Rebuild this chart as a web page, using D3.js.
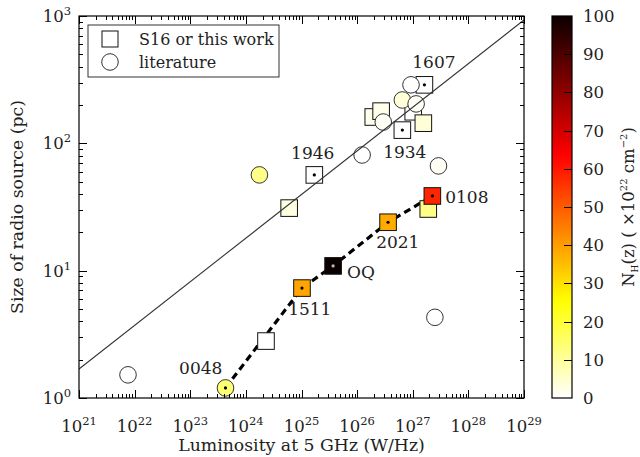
<!DOCTYPE html>
<html><head><meta charset="utf-8">
<script src="https://cdn.jsdelivr.net/npm/d3@7"></script>
<style>body{margin:0;background:#fff}svg{display:block}text{font-family:"DejaVu Serif",serif;fill:#222}</style>
</head><body><div id="c"></div>
<script>
// Squares: "S16 or this work"
const sqNames = ["1607","","","","","1934","1946","","","0108","2021","OQ","1511",""];
const sqL = [1.62e27,1.95e26,2.7e26,1.02e27,1.55e27,6.5e26,1.7e25,6.0e24,1.9e27,2.25e27,3.6e26,3.7e25,1.02e25,2.3e24];
const sqS = [288,161,179,177,144,127,56.5,31,30.5,38.6,24,10.9,7.3,2.8];
const sqNH = [0,2,2,0,4,0,0,3,12,58,38,100,39,0];
const sqDot = [1,0,0,0,0,1,1,0,0,1,1,1,1,0];
// Circles: "literature"
const ciNames = ["","","0048","","","","","","",""];
const ciL = [7.6e21,1.75e24,4.3e23,1.23e26,2.9e27,2.5e27,9.3e26,6.5e26,1.15e27,2.95e26];
const ciS = [1.52,56.5,1.2,81,66.5,4.3,288,219,204,147];
const ciNH = [0,12,14,0,1,0,0,4,1,1];
const ciDot = [0,0,1,0,0,0,0,0,0,0];
// dashed track (this work)
const trackL = [4.3e23,1.02e25,3.7e25,3.6e26,2.25e27];
const trackS = [1.2,7.3,10.9,24,38.6];
// solid relation line endpoints
const fitL = [1e21,1e29];
const fitS = [1.69,930];
// annotations
const annText = ["1607","1934","1946","0108","2021","OQ","1511","0048"];
const annL = [9.8e26,2.94e26,6.5e24,3.83e27,2.2e26,6.6e25,5.75e24,6.3e22];
const annS = [391,76.8,75.4,34,15.1,8.77,4.49,1.54];
const xTicks = [1e21,1e22,1e23,1e24,1e25,1e26,1e27,1e28,1e29];
const yTicks = [1,10,100,1000];
const cbTicks = [0,10,20,30,40,50,60,70,80,90,100];

const W=640,H=457;
const svg=d3.select("#c").append("svg").attr("width",W).attr("height",H);
const L=79,R=524,T=16,B=398;
const x=d3.scaleLog().domain([1e21,1e29]).range([L,R]);
const y=d3.scaleLog().domain([1,1000]).range([B,T]);

function hot(t){
  const r = t<0.365079 ? 0.0416+(1-0.0416)*t/0.365079 : 1;
  const g = t<0.365079 ? 0 : (t<0.746032 ? (t-0.365079)/(0.746032-0.365079) : 1);
  const b = t<0.746032 ? 0 : (t-0.746032)/(1-0.746032);
  return d3.rgb(r*255,g*255,b*255).formatHex();
}
const cmap = v => hot(1-Math.max(0,Math.min(100,v))/100);

svg.append("defs").append("clipPath").attr("id","clip").append("rect")
  .attr("x",L).attr("y",T).attr("width",R-L).attr("height",B-T);

// dashed track
const line=d3.line().x(d=>x(d[0])).y(d=>y(d[1]));
svg.append("path").datum(trackL.map((v,i)=>[v,trackS[i]]))
  .attr("d",line).attr("fill","none").attr("stroke","#000").attr("stroke-width",3.2)
  .attr("stroke-dasharray","7,4.5");

const half=8.3;
// squares
sqL.forEach((v,i)=>{
  svg.append("rect").attr("x",x(v)-half).attr("y",y(sqS[i])-half).attr("width",2*half).attr("height",2*half)
    .attr("fill",cmap(sqNH[i])).attr("stroke","#111").attr("stroke-width",1);
  if(sqDot[i]) svg.append("circle").attr("cx",x(v)).attr("cy",y(sqS[i])).attr("r",1.6)
    .attr("fill",sqNH[i]>80?"#bbb":"#000");
});
// circles
ciL.forEach((v,i)=>{
  svg.append("circle").attr("cx",x(v)).attr("cy",y(ciS[i])).attr("r",8.3)
    .attr("fill",cmap(ciNH[i])).attr("stroke","#333").attr("stroke-width",1);
  if(ciDot[i]) svg.append("circle").attr("cx",x(v)).attr("cy",y(ciS[i])).attr("r",1.6).attr("fill","#000");
});
// solid line on top
svg.append("path").datum(fitL.map((v,i)=>[v,fitS[i]])).attr("d",line)
  .attr("clip-path","url(#clip)").attr("fill","none").attr("stroke","#333").attr("stroke-width",1.1);

// annotations
annText.forEach((t,i)=>{
  svg.append("text").attr("x",x(annL[i])).attr("y",y(annS[i])).attr("font-size",17).text(t);
});

// frame
svg.append("rect").attr("x",L).attr("y",T).attr("width",R-L).attr("height",B-T)
  .attr("fill","none").attr("stroke","#000").attr("stroke-width",1.2);

// ticks
const minorX=[],minorY=[];
for(let e=21;e<29;e++) for(let k=2;k<10;k++) minorX.push(k*Math.pow(10,e));
for(let e=0;e<3;e++) for(let k=2;k<10;k++) minorY.push(k*Math.pow(10,e));
const tk=svg.append("g").attr("stroke","#000").attr("stroke-width",1);
xTicks.forEach(v=>{const px=Math.round(x(v))+0.5;
  tk.append("line").attr("x1",px).attr("x2",px).attr("y1",B).attr("y2",B-8);
  tk.append("line").attr("x1",px).attr("x2",px).attr("y1",T).attr("y2",T+8);});
minorX.forEach(v=>{const px=Math.round(x(v))+0.5;
  tk.append("line").attr("x1",px).attr("x2",px).attr("y1",B).attr("y2",B-4);
  tk.append("line").attr("x1",px).attr("x2",px).attr("y1",T).attr("y2",T+4);});
yTicks.forEach(v=>{const py=Math.round(y(v))+0.5;
  tk.append("line").attr("y1",py).attr("y2",py).attr("x1",L).attr("x2",L+8);
  tk.append("line").attr("y1",py).attr("y2",py).attr("x1",R).attr("x2",R-8);});
minorY.forEach(v=>{const py=Math.round(y(v))+0.5;
  tk.append("line").attr("y1",py).attr("y2",py).attr("x1",L).attr("x2",L+4);
  tk.append("line").attr("y1",py).attr("y2",py).attr("x1",R).attr("x2",R-4);});

// tick labels
xTicks.forEach(v=>{
  const e=Math.round(Math.log10(v));
  const t=svg.append("text").attr("x",x(v)).attr("y",432).attr("text-anchor","middle").attr("font-size",16.5);
  t.append("tspan").text("10");
  t.append("tspan").attr("dy",-7).attr("font-size",11.5).text(e);
});
yTicks.forEach(v=>{
  const e=Math.round(Math.log10(v));
  const t=svg.append("text").attr("x",L-8).attr("y",y(v)+6).attr("text-anchor","end").attr("font-size",16.5);
  t.append("tspan").text("10");
  t.append("tspan").attr("dy",-7).attr("font-size",11.5).text(e);
});
svg.append("text").attr("x",(L+R)/2).attr("y",451).attr("text-anchor","middle").attr("font-size",17.3)
  .text("Luminosity at 5 GHz (W/Hz)");
svg.append("text").attr("transform",`translate(23,${(T+B)/2}) rotate(-90)`).attr("text-anchor","middle")
  .attr("font-size",17.3).text("Size of radio source (pc)");

// legend
const lg=svg.append("g");
lg.append("rect").attr("x",88).attr("y",25).attr("width",191).attr("height",52)
  .attr("fill","#fff").attr("stroke","#333").attr("stroke-width",1);
lg.append("rect").attr("x",110-8).attr("y",39-8).attr("width",16).attr("height",16).attr("fill","#fff").attr("stroke","#111");
lg.append("circle").attr("cx",110).attr("cy",62).attr("r",8.3).attr("fill","#fff").attr("stroke","#333");
lg.append("text").attr("x",139).attr("y",45).attr("font-size",16).text("S16 or this work");
lg.append("text").attr("x",139).attr("y",68).attr("font-size",16).text("literature");

// colorbar
const cbX=552,cbW=20;
const cy=d3.scaleLinear().domain([0,100]).range([B,T]);
const grad=svg.select("defs").append("linearGradient").attr("id","cbg").attr("x1",0).attr("y1",1).attr("x2",0).attr("y2",0);
for(let i=0;i<=100;i+=2) grad.append("stop").attr("offset",i/100).attr("stop-color",cmap(i));
svg.append("rect").attr("x",cbX).attr("y",T).attr("width",cbW).attr("height",B-T).attr("fill","url(#cbg)")
  .attr("stroke","#000").attr("stroke-width",1.2);
cbTicks.forEach(v=>{
  const py=Math.round(cy(v))+0.5;
  if(v>0&&v<100) svg.append("line").attr("x1",cbX+cbW).attr("x2",cbX+cbW-8).attr("y1",py).attr("y2",py).attr("stroke","#000");
  svg.append("text").attr("x",583).attr("y",cy(v)+6).attr("font-size",16.5).text(v);
});
const cbl=svg.append("text").attr("transform",`translate(634,${(T+B)/2}) rotate(-90)`).attr("text-anchor","middle").attr("font-size",16.5);
cbl.append("tspan").text("N");
cbl.append("tspan").attr("dy",4).attr("font-size",9).text("H");
cbl.append("tspan").attr("dy",-4).text("(z) ( ×10");
cbl.append("tspan").attr("dy",-7).attr("font-size",10).text("22");
cbl.append("tspan").attr("dy",7).text("  cm");
cbl.append("tspan").attr("dy",-7).attr("font-size",10).text("−2");
cbl.append("tspan").attr("dy",7).text(")");
</script></body></html>
